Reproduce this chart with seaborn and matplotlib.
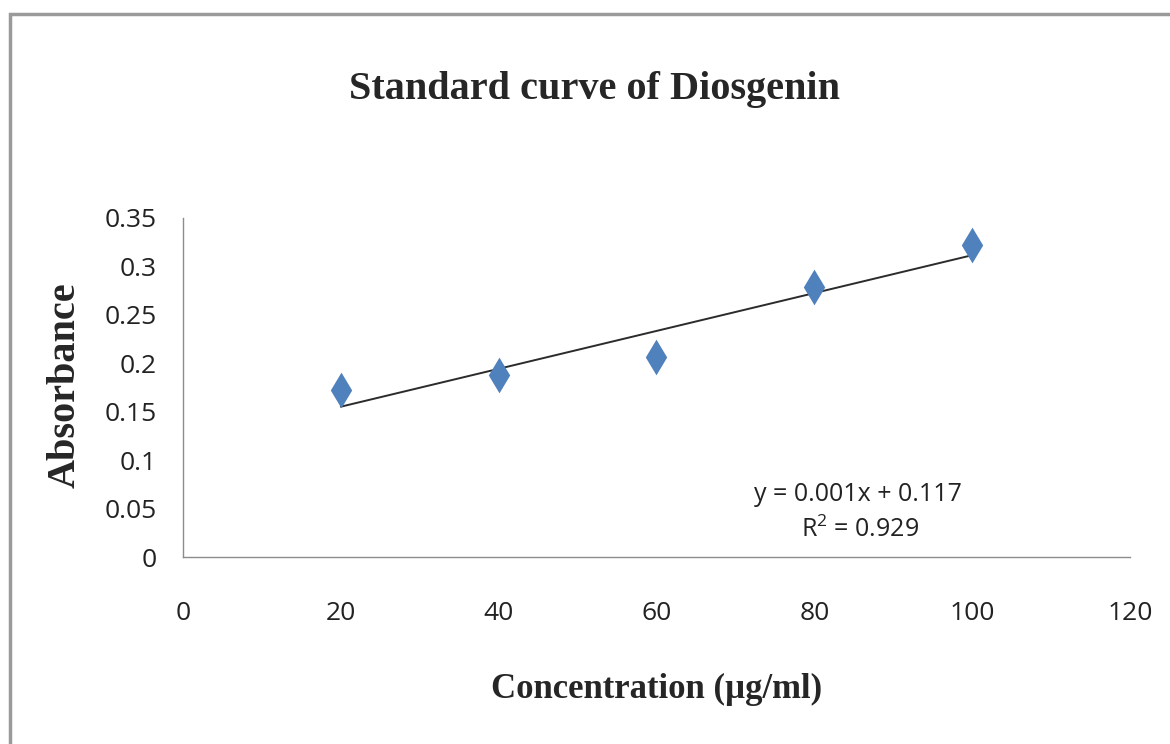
import numpy as np
import pandas as pd
import seaborn as sns
import matplotlib.pyplot as plt
from matplotlib.patches import Rectangle

# Standard curve readings
concentration = [20, 40, 60, 80, 100]
absorbance = [0.172, 0.188, 0.206, 0.279, 0.322]
x_ticks = [0, 20, 40, 60, 80, 100, 120]
y_ticks = [0, 0.05, 0.1, 0.15, 0.2, 0.25, 0.3, 0.35]
y_tick_labels = ["0", "0.05", "0.1", "0.15", "0.2", "0.25", "0.3", "0.35"]
equation = "y = 0.001x + 0.117"
r_squared = "R$^2$ = 0.929"

df = pd.DataFrame({"Concentration": concentration, "Absorbance": absorbance})

sns.set_style("white")
plt.rcParams["font.family"] = ["Open Sans", "DejaVu Sans"]
plt.rcParams["mathtext.fontset"] = "custom"
plt.rcParams["mathtext.rm"] = "Open Sans"

fig = plt.figure(figsize=(11.7, 7.44), dpi=100)
ax = fig.add_axes([0.1564, 0.2513, 0.8094, 0.4557])

# Outer chart frame (runs off the right and bottom edges)
fig.patches.append(Rectangle((10 / 1170, -0.2), 1.2, 1.2 - 14 / 744,
                             transform=fig.transFigure, fill=False,
                             edgecolor="#9a9a9a", linewidth=2.5))

# Linear trendline
sns.regplot(data=df, x="Concentration", y="Absorbance", scatter=False, ci=None,
            color="#2b2b2b", line_kws={"linewidth": 1.4}, ax=ax)
sns.scatterplot(data=df, x="Concentration", y="Absorbance", marker="d", s=330,
                color="#4F81BD", edgecolor="#4F81BD", linewidth=0, zorder=3, ax=ax)

ax.set_xlim(0, 120)
ax.set_ylim(0, 0.35)
ax.set_xticks(x_ticks)
ax.set_yticks(y_ticks)
ax.set_yticklabels(y_tick_labels)
ax.tick_params(axis="both", labelsize=19, colors="#8c8c8c", length=7, width=1,
               labelcolor="#222222", direction="out")
ax.tick_params(axis="x", pad=25)
ax.tick_params(axis="y", pad=12)
for side in ["top", "right"]:
    ax.spines[side].set_visible(False)
for side in ["left", "bottom"]:
    ax.spines[side].set_color("#8c8c8c")
    ax.spines[side].set_linewidth(1)
ax.set_xlabel("")
ax.set_ylabel("")

fig.text(0.508, 0.88, "Standard curve of Diosgenin", ha="center", va="center",
         fontsize=29, fontweight="bold", family="Liberation Serif")
fig.text(0.056, 0.4825, "Absorbance", ha="center", va="center", rotation=90,
         fontsize=29, fontweight="bold", family="Liberation Serif")
fig.text(0.561, 0.073, "Concentration (µg/ml)", ha="center", va="center",
         fontsize=25, fontweight="bold", family="Liberation Serif")

ax.text(0.733, 0.335, equation, transform=fig.transFigure, ha="center",
        va="center", fontsize=18, color="#222222")
ax.text(0.735, 0.288, r_squared, transform=fig.transFigure, ha="center",
        va="center", fontsize=18, color="#222222")

fig.savefig("out.png", dpi=100)
